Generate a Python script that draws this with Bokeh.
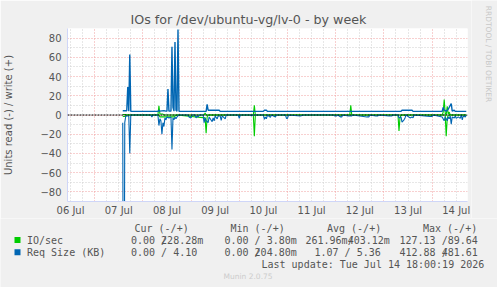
import numpy as np
from bokeh.plotting import figure
from bokeh.layouts import column, row
from bokeh.models import FixedTicker, Label, Range1d, Span
from bokeh.embed import file_html
from bokeh.resources import INLINE

# time axis: hours since 06 Jul 00:00
day_labels = ["06 Jul", "07 Jul", "08 Jul", "09 Jul", "10 Jul", "11 Jul", "12 Jul", "13 Jul", "14 Jul"]
y_ticks = [-80, -60, -40, -20, 0, 20, 40, 60, 80]

# Req Size (KB) write (+)
bw_h = [38.0, 40.0, 40.5, 41.0, 41.5, 42.0, 55.5, 56.0, 56.5, 58.5, 59.5, 60.0, 60.5, 61.0,
        62.0, 62.5, 63.0, 63.5, 64.0, 64.5, 65.0, 65.5, 66.0, 79.5, 80.0, 80.5, 86.0, 86.5,
        108.0, 108.5, 109.5, 110.0, 176.5, 177.0, 182.0, 182.5, 197.0, 197.5, 198.0, 199.0,
        200.0, 201.5, 202.0, 203.0, 203.5, 209.0]
bw_v = [4.5, 4.5, 29, 4, 63, 3.8, 3.8, 5, 4, 4.5, 4, 4, 27, 4,
        4, 71, 8, 4, 76, 5, 4, 89, 3.8, 3.8, 11, 5, 5, 3.8,
        3.8, 5, 5, 3.8, 3.8, 5, 5, 3.8, 3.8, 8, 5, 4,
        6, 12, 4, 5, 3.8, 3.8]

# Req Size (KB) read (-)
br_h = [38.0, 38.5, 39.0, 39.5, 41.0, 41.5, 42.0, 52.0, 52.5, 53.0, 55.5, 56.0, 56.5, 57.0,
        57.5, 58.0, 58.5, 59.0, 59.5, 60.0, 61.0, 62.0, 62.5, 63.0, 63.5, 64.0, 64.5, 65.0,
        65.5, 66.0, 70.5, 71.0, 72.0, 72.5, 74.0, 74.5, 75.0, 75.5, 76.0, 78.0, 78.5, 79.0,
        79.5, 80.5, 81.0, 82.5, 83.0, 83.5, 84.0, 85.0, 85.5, 86.5, 87.0, 87.5, 89.0, 89.5,
        95.5, 96.0, 96.5, 101.5, 102.0, 102.5, 108.0, 108.5, 109.0, 109.5, 110.0, 111.5, 112.0,
        114.0, 114.5, 119.0, 119.5, 120.0, 120.5, 126.5, 128.0, 143.0, 143.5, 144.5, 145.0,
        146.5, 147.0, 147.5, 150.5, 152.0, 152.5, 159.5, 160.5, 161.0, 164.0, 165.0, 165.5,
        170.5, 172.0, 172.5, 175.0, 175.5, 176.5, 177.0, 178.0, 178.5, 179.0, 181.0, 182.0,
        182.5, 183.0, 191.0, 192.0, 192.5, 197.0, 198.0, 198.5, 199.5, 200.0, 200.5, 201.0,
        201.5, 202.0, 203.0, 203.5, 204.0, 205.0, 206.0, 206.5, 207.0, 207.5, 208.5, 209.0]
br_v = [-8, -413, -8, -1, -1, -40, 0, 0, -2, 0, 0, -11, -4, -6,
        -20, -8, -12, -3, -5, -2, -3, -2, -36, -3, -5, -2, -4, -2,
        -1, 0, 0, -2, -3, 0, 0, -3, -1, -2, 0, 0, -8, -3,
        -6, -8, -2, -7, -3, -6, -1, -4, -1, -1, -5.5, -1, -4, 0,
        0, -3.5, 0, 0, -1, 0, 0, -4.5, -2, -4, 0, -2.5, 0,
        -2, 0, 0, -3.5, -3.5, 0, -1, 0, 0, -1, -1, 0,
        -2, -2, 0, -1, -1, 0, -2, -2, 0, -1, -1, 0,
        -1, -1, 0, 0, -3, -2, -7.5, -5, -3, 0, -3, -2,
        -3, 0, -1.5, -1.5, 0, -2, -6, -2, -6, -2, -4, -1,
        -9.5, -2, -3, -1, -3.5, -2, -3.5, 0, -5, -1, -2, 0]

# IO/sec write (+)
gw_h = [38.0, 39.5, 40.0, 55.5, 56.0, 56.5, 58.0, 58.5, 78.5, 79.0, 79.5, 103.0, 103.5, 104.0,
        151.0, 151.5, 152.0, 197.0, 197.5, 198.0, 198.5, 199.0, 199.5, 200.0, 200.5, 201.0, 209.0]
gw_v = [0.5, 0.5, 0, 0, 9.5, 1, 1, 0, 0, 2, 0, 0, 10, 0,
        0, 10, 0, 0, 3, 16, 2, 0, 9, 1, 3, 0, 0]

# IO/sec read (-)
gr_h = [38.0, 39.5, 40.0, 56.0, 56.5, 63.5, 64.0, 65.0, 79.0, 79.5, 80.0, 80.5, 103.0, 103.5,
        104.0, 175.0, 175.5, 176.0, 176.5, 198.5, 199.0, 199.5, 200.0, 209.0]
gr_v = [-1.5, -1.5, 0, 0, -2, -2, -1, 0, -3, -19, -2, 0, 0, -22,
        0, 0, -16.5, -3, 0, 0, -22, -4, 0, 0]

# legend table (slash_pos: character index where a "/" is overprinted, -1 for none)
series_names = ["IO/sec", "Req Size (KB)"]
col_heads = ["Cur (-/+)", "Min (-/+)", "Avg (-/+)", "Max (-/+)"]
io_stats = ["0.00 228.28m", "0.00 / 3.80m", "261.96m403.12m", "127.13 /89.64"]
req_stats = ["0.00 / 4.10", "0.00 204.80m", "1.07 / 5.36", "412.88 481.61"]
io_slash = [5, -1, 7, -1]
req_slash = [-1, 5, -1, 7]

GREEN = "#00cc00"
BLUE = "#0066b3"
FONT = "#555555"
AXIS = "#cfd6f8"
BG = "#f0f0f0"

TOP_H = 218
MAIN_W = 471
MONO_ADV = 6.02  # advance of DejaVu Sans Mono at 10px


def no_align(fig):
    if "frame_align" in fig.properties():
        fig.frame_align = False


p = figure(width=MAIN_W, height=TOP_H, output_backend="svg", toolbar_location=None,
           x_range=Range1d(10.5, 209.6), y_range=Range1d(-90, 90),
           min_border_left=67, min_border_right=MAIN_W - 467, min_border_top=28, min_border_bottom=15)
no_align(p)
p.background_fill_color = "white"
p.border_fill_color = BG
p.outline_line_color = None

p.title.text = "IOs for /dev/ubuntu-vg/lv-0 - by week"
p.title.align = "left"
p.title.offset = 63
p.title.standoff = 4
p.title.text_font = "DejaVu Sans"
p.title.text_font_size = "12.7px"
p.title.text_font_style = "normal"
p.title.text_color = FONT

# grids
mid = [24.0 * k for k in range(1, 9)]
six = [6.0 * k for k in range(1, 36) if k % 4 != 0]
p.xgrid.ticker = FixedTicker(ticks=mid, minor_ticks=six)
p.ygrid.ticker = FixedTicker(ticks=y_ticks, minor_ticks=[-70, -50, -30, -10, 10, 30, 50, 70, 90])
for g in (p.xgrid, p.ygrid):
    g.grid_line_color = "#f0a0a0"
    g.grid_line_dash = "1 2"
    g.grid_line_width = 1
    g.minor_grid_line_color = "#cfcfcf"
    g.minor_grid_line_dash = "1 2"

# axes
p.xaxis.ticker = FixedTicker(ticks=[12.0 + 24 * k for k in range(9)])
p.xaxis.major_label_overrides = {12.0 + 24 * k: day_labels[k] for k in range(9)}
p.yaxis.ticker = FixedTicker(ticks=y_ticks)
p.yaxis.axis_label = "Units read (-) / write (+)"
p.yaxis.axis_label_standoff = 23
p.yaxis.axis_label_text_font = "DejaVu Sans"
p.yaxis.axis_label_text_font_size = "10px"
p.yaxis.axis_label_text_font_style = "normal"
p.yaxis.axis_label_text_color = FONT
for ax in (p.xaxis, p.yaxis):
    ax.axis_line_color = AXIS
    ax.major_tick_line_color = None
    ax.minor_tick_line_color = None
    ax.major_tick_out = 0
    ax.major_tick_in = 0
    ax.major_label_text_font = "DejaVu Sans"
    ax.major_label_text_font_size = "10px"
    ax.major_label_text_color = FONT
p.xaxis.major_label_standoff = 3
p.yaxis.major_label_standoff = 6

# data
p.line(gw_h, gw_v, line_color=GREEN, line_width=1.1)
p.line(gr_h, gr_v, line_color=GREEN, line_width=1.1)
p.line(bw_h, bw_v, line_color=BLUE, line_width=1.4)
p.line(br_h, br_v, line_color=BLUE, line_width=1.1)

p.add_layout(Span(location=0, dimension="width", line_color="black", line_width=1, line_dash="2 1"))

# ---- right strip with the rrdtool credit (frame = whole strip, page pixel coordinates) ----
r = figure(width=497 - MAIN_W, height=TOP_H, output_backend="svg", toolbar_location=None,
           x_range=Range1d(MAIN_W, 497), y_range=Range1d(TOP_H, 0),
           x_axis_location=None, y_axis_location=None,
           min_border_left=0, min_border_right=0, min_border_top=0, min_border_bottom=0)
no_align(r)
r.title.visible = False
r.grid.visible = False
r.background_fill_color = BG
r.border_fill_color = BG
r.outline_line_color = None
r.add_layout(Label(text="RRDTOOL / TOBI OETIKER", x=488, y=53.5, angle=-np.pi / 2,
                   text_font="DejaVu Sans", text_font_size="7.5px", text_color="#c8c8c8",
                   text_align="center", text_baseline="middle"))

# ---- legend panel (frame = whole panel, page pixel coordinates) ----
q = figure(width=497, height=287 - TOP_H, output_backend="svg", toolbar_location=None,
           x_range=Range1d(0, 497), y_range=Range1d(287, TOP_H),
           x_axis_location=None, y_axis_location=None,
           min_border_left=0, min_border_right=0, min_border_top=0, min_border_bottom=0)
no_align(q)
q.title.visible = False
q.grid.visible = False
q.background_fill_color = BG
q.border_fill_color = BG
q.outline_line_color = None


def lab(text, x, y, size="10px", font="DejaVu Sans Mono", color=FONT):
    q.add_layout(Label(text=text, x=x, y=y, text_font=font, text_font_size=size, text_color=color,
                       text_align="left", text_baseline="middle"))


for t, x in zip(col_heads, [134, 230, 326.5, 422.5]):
    lab(t, x, 227.5)

row_y = [239.5, 251.7]
q.rect(x=[17, 17], y=row_y, width=6, height=6, fill_color=[GREEN, BLUE], line_color=None)
for name, y, stats, slashes, xs in ((series_names[0], row_y[0], io_stats, io_slash, [130.5, 224, 305, 399]),
                                    (series_names[1], row_y[1], req_stats, req_slash, [130.5, 224, 314, 399])):
    lab(name, 26.5, y)
    for t, k, x in zip(stats, slashes, xs):
        lab(t, x, y)
        if k >= 0:
            lab("/", x + k * MONO_ADV, y)

lab("Last update: Tue Jul 14 18:00:19 2026", 261, 263.5)
lab("Munin 2.0.75", 223, 276, size="7.5px", font="DejaVu Sans", color="#cccccc")

layout = column(row(p, r, spacing=0), q, spacing=0)
open("out.html", "w").write(file_html(layout, INLINE))
